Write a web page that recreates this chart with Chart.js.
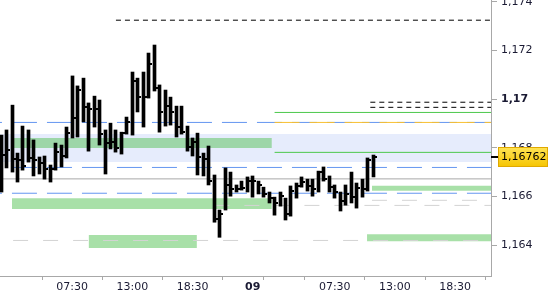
<!DOCTYPE html>
<html>
<head>
<meta charset="utf-8">
<script src="https://cdn.jsdelivr.net/npm/chart.js@4/dist/chart.umd.min.js"></script>
<style>
  body { margin: 0; background: #fff; }
</style>
</head>
<body>
<canvas id="chart" width="550" height="300"></canvas>
<script>
// 30 min bars, hours counted from 00:00 of the 8th
var barHours = [1, 1.5, 2, 2.5, 3, 3.5, 4, 4.5, 5, 5.5, 6, 6.5, 7, 7.5, 8, 8.5, 9, 9.5, 10, 10.5,
    11, 11.5, 12, 12.5, 13, 13.5, 14, 14.5, 15, 15.5, 16, 16.5, 17, 17.5, 18, 18.5, 19, 19.5, 20, 20.5,
    21, 21.5, 22, 22.5, 23, 23.5, 24, 24.5, 25, 25.5, 26, 26.5, 27, 27.5, 28, 28.5, 29, 29.5, 30, 30.5,
    31, 31.5, 32, 32.5, 33, 33.5, 34, 34.5, 35];
var highs = [1.16852, 1.16873, 1.16975, 1.16778, 1.16889, 1.16873, 1.16832, 1.16762, 1.16766, 1.16729,
    1.16819, 1.16811, 1.16885, 1.17095, 1.17054, 1.17086, 1.16984, 1.17012, 1.16996, 1.16873,
    1.16901, 1.16873, 1.16864, 1.16926, 1.17111, 1.17086, 1.17111, 1.17189, 1.17222, 1.17058,
    1.17037, 1.17008, 1.16971, 1.16971, 1.16889, 1.16840, 1.16860, 1.16778, 1.16807, 1.16688,
    1.16544, 1.16717, 1.16700, 1.16647, 1.16663, 1.16680, 1.16684, 1.16663, 1.16638, 1.16618,
    1.16597, 1.16618, 1.16593, 1.16643, 1.16655, 1.16680, 1.16671, 1.16671, 1.16704, 1.16721,
    1.16684, 1.16647, 1.16618, 1.16647, 1.16700, 1.16655, 1.16671, 1.16758, 1.16770];
var lows = [1.16618, 1.16717, 1.16700, 1.16659, 1.16708, 1.16741, 1.16684, 1.16692, 1.16671, 1.16659,
    1.16708, 1.16721, 1.16758, 1.16840, 1.16844, 1.16906, 1.16786, 1.16885, 1.16811, 1.16692,
    1.16795, 1.16782, 1.16774, 1.16856, 1.16852, 1.16947, 1.16885, 1.17004, 1.17033, 1.16864,
    1.16889, 1.16893, 1.16844, 1.16856, 1.16786, 1.16766, 1.16688, 1.16684, 1.16647, 1.16494,
    1.16432, 1.16544, 1.16601, 1.16618, 1.16626, 1.16618, 1.16597, 1.16610, 1.16597, 1.16573,
    1.16523, 1.16560, 1.16503, 1.16519, 1.16593, 1.16638, 1.16622, 1.16601, 1.16618, 1.16663,
    1.16618, 1.16593, 1.16540, 1.16564, 1.16573, 1.16552, 1.16597, 1.16622, 1.16680];
var closes = [1.16770, 1.16790, 1.16753, 1.16749, 1.16725, 1.16758, 1.16749, 1.16737, 1.16712, 1.16712,
    1.16782, 1.16766, 1.16860, 1.16922, 1.17037, 1.16967, 1.16959, 1.16959, 1.16856, 1.16819,
    1.16823, 1.16799, 1.16860, 1.16906, 1.17074, 1.17008, 1.17008, 1.17144, 1.17045, 1.16947,
    1.16971, 1.16947, 1.16885, 1.16864, 1.16803, 1.16823, 1.16762, 1.16753, 1.16663, 1.16507,
    1.16527, 1.16647, 1.16630, 1.16630, 1.16634, 1.16663, 1.16663, 1.16647, 1.16610, 1.16593,
    1.16573, 1.16601, 1.16527, 1.16622, 1.16643, 1.16659, 1.16643, 1.16630, 1.16700, 1.16671,
    1.16638, 1.16618, 1.16581, 1.16610, 1.16597, 1.16634, 1.16630, 1.16749, 1.16762];

// horizontal levels: price, start hour (all run to the right edge)
var levelPrices = [1.17324, 1.16987, 1.16966, 1.16945, 1.16904, 1.16904, 1.16781,
    1.16719, 1.16672, 1.16613, 1.16584, 1.16563, 1.16419];
var levelFrom = [11.5, 34.75, 34.75, 26, 0.9, 26, 26, 0.9, 0.9, 0.9, 34.9, 20.5, 2.1];

// zones: top, bottom, start hour, end hour
var zoneTops = [1.16856, 1.16840, 1.16592, 1.16441, 1.16644, 1.16445];
var zoneBottoms = [1.16741, 1.16799, 1.16548, 1.16388, 1.16623, 1.16416];
var zoneFrom = [0.9, 2, 2, 9, 34.9, 34.45];
var zoneTo = [45.8, 25.75, 25.75, 18.9, 45.8, 45.8];

var xTickHours = [2, 7.5, 13, 18.5, 24, 26, 31.5, 37, 42.5];
var xTickLabels = ["", "07:30", "13:00", "18:30", "09", "", "07:30", "13:00", "18:30"];
var yTicks = [1.164, 1.166, 1.168, 1.17, 1.172, 1.174];

var xMin = 0.903, xMax = 45.78;

var levelStyles = [
    { color: "#000000", dash: [5, 4], off: 0, order: 1 },
    { color: "#000000", dash: [5, 4], off: 0, order: 1 },
    { color: "#000000", dash: [5, 4], off: 0, order: 1 },
    { color: "#4cc84c", dash: [], off: 0, order: 1 },
    { color: "#6496f0", dash: [25, 10], off: 23, order: 1 },
    { color: "#f8c030", dash: [25, 10], off: 0, order: 0.5 },
    { color: "#4cc84c", dash: [], off: 0, order: 1 },
    { color: "#6496f0", dash: [25, 10], off: 23, order: 1 },
    { color: "#a8a8a8", dash: [], off: 0, order: 1 },
    { color: "#6496f0", dash: [25, 10], off: 23, order: 1 },
    { color: "#d4d4d4", dash: [15, 15], off: 0, order: 1 },
    { color: "#d4d4d4", dash: [15, 15], off: 0, order: 1 },
    { color: "#d4d4d4", dash: [15, 15], off: 0, order: 1 }
];
var zoneColors = ["#e6ecfc", "#9dd6a8", "#a8e0a8", "#a8e0a8", "#a8e0a8", "#a8e0a8"];

function fmt(v, digits) {
    var s = digits ? v.toFixed(digits) : String(v);
    return s.replace(".", ",");
}

var datasets = [];
datasets.push({
    type: "bar",
    order: 0,
    data: barHours.map(function(t, i) { return { x: t, y: [lows[i], highs[i]] }; }),
    backgroundColor: "#000",
    borderWidth: 0,
    barThickness: 3
});
levelPrices.forEach(function(p, i) {
    var st = levelStyles[i];
    datasets.push({
        type: "line",
        order: st.order,
        data: [{ x: levelFrom[i], y: p }, { x: xMax, y: p }],
        borderColor: st.color,
        borderWidth: 1,
        borderDash: st.dash,
        borderDashOffset: st.off,
        pointRadius: 0,
        fill: false
    });
});
zoneTops.forEach(function(p, i) {
    datasets.push({
        type: "line",
        order: i === 0 ? 3 : 2,
        data: [{ x: zoneFrom[i], y: p }, { x: zoneTo[i], y: p }],
        borderWidth: 0,
        pointRadius: 0,
        backgroundColor: zoneColors[i],
        fill: { value: zoneBottoms[i] }
    });
});

// crisp bars, close ticks and last price marker
var ohlcExtras = {
    id: "ohlcExtras",
    beforeDatasetsDraw: function(chart) {
        chart.getDatasetMeta(0).data.forEach(function(el) {
            el.x = Math.round(el.x - 0.5) + 0.5;
        });
    },
    afterDatasetsDraw: function(chart) {
        var ys = chart.scales.y, ctx = chart.ctx;
        var bars = chart.getDatasetMeta(0).data;
        ctx.save();
        ctx.fillStyle = "#000";
        closes.forEach(function(c, i) {
            var y = Math.round(ys.getPixelForValue(c));
            ctx.fillRect(bars[i].x + 1.5, y - 1, 2, 2);
        });
        ctx.restore();
    },
    afterDraw: function(chart) {
        var ys = chart.scales.y, ctx = chart.ctx, area = chart.chartArea;
        var last = closes[closes.length - 1];
        var y = Math.round(ys.getPixelForValue(last));
        var bx = area.right + 7, bw = 50, bh = 20;
        ctx.save();
        ctx.fillStyle = "#000";
        ctx.fillRect(area.right, y - 1, 7, 2);
        var g = ctx.createLinearGradient(0, y - bh / 2, 0, y + bh / 2);
        g.addColorStop(0, "#ffe456");
        g.addColorStop(1, "#f5c400");
        ctx.fillStyle = g;
        ctx.fillRect(bx, y - bh / 2, bw, bh);
        ctx.strokeStyle = "#e0a800";
        ctx.lineWidth = 1;
        ctx.strokeRect(bx + 0.5, y - bh / 2 + 0.5, bw - 1, bh - 1);
        ctx.fillStyle = "#000";
        ctx.font = "11px 'DejaVu Sans'";
        ctx.textAlign = "left";
        ctx.textBaseline = "middle";
        ctx.fillText(fmt(last, 5), bx + 3, y + 0.5);
        ctx.restore();
    }
};

Chart.defaults.font.family = "'DejaVu Sans', sans-serif";
Chart.defaults.font.size = 11;
Chart.defaults.color = "#1a1a33";

var chart = new Chart(document.getElementById("chart"), {
    type: "bar",
    data: { datasets: datasets },
    plugins: [ohlcExtras],
    options: {
        responsive: false,
        animation: false,
        events: [],
        layout: { padding: 0 },
        plugins: {
            legend: { display: false },
            tooltip: { enabled: false }
        },
        scales: {
            x: {
                type: "linear",
                min: xMin,
                max: xMax,
                offset: false,
                afterBuildTicks: function(s) {
                    s.ticks = xTickHours.map(function(v) { return { value: v }; });
                },
                afterFit: function(s) {
                    s.height = 24;
                    s.paddingLeft = 0;
                    s.paddingRight = 0;
                },
                grid: { display: true, drawOnChartArea: false, drawTicks: true, tickLength: 4, color: "#a8a8a8" },
                border: { display: true, color: "#a8a8a8" },
                ticks: {
                    autoSkip: false,
                    maxRotation: 0,
                    padding: 1,
                    callback: function(v, i) { return xTickLabels[i]; },
                    font: function(c) {
                        return c.tick && c.tick.value === 24 ? { weight: "bold" } : { weight: "normal" };
                    }
                }
            },
            y: {
                position: "right",
                min: 1.16273,
                max: 1.17407,
                afterBuildTicks: function(s) {
                    s.ticks = yTicks.map(function(v) { return { value: v }; });
                },
                afterFit: function(s) {
                    s.width = 59;
                    s.paddingTop = 0;
                    s.paddingBottom = 0;
                },
                grid: { display: true, drawOnChartArea: false, drawTicks: true, tickLength: 6, color: "#a8a8a8" },
                border: { display: true, color: "#a8a8a8" },
                ticks: {
                    padding: 4,
                    callback: function(v) { return fmt(v); },
                    font: function(c) {
                        return c.tick && c.tick.value === 1.17 ? { weight: "bold" } : { weight: "normal" };
                    }
                }
            }
        }
    }
});
</script>
</body>
</html>
